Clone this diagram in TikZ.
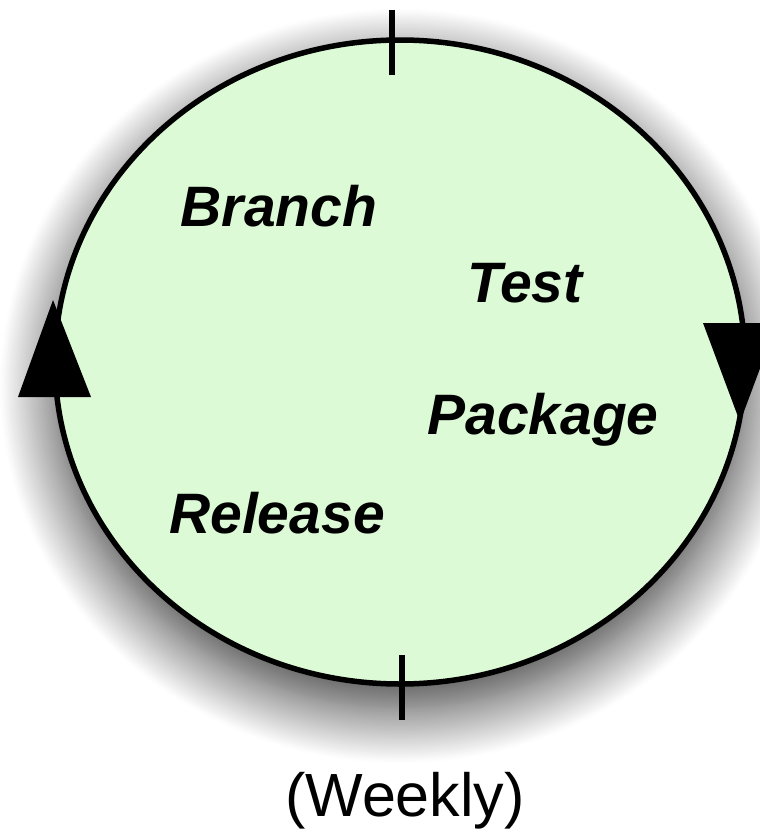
\documentclass[tikz,border=0pt]{standalone}
\usepackage{fontspec}
\setmainfont{Liberation Sans}
\usetikzlibrary{shapes.geometric,shadows.blur}
\definecolor{cyclefill}{RGB}{220,250,214}
\tikzset{
  stage/.style={font=\fontsize{57}{60}\selectfont\bfseries\itshape, inner sep=0pt},
  tick/.style={line width=6pt},
  head/.style={fill=black, draw=none},
}
\begin{document}
\begin{tikzpicture}[x=1pt,y=-1pt]
  \useasboundingbox (0,0) rectangle (760,838);
  % the release cycle
  \node (cycle) [ellipse, draw=black, line width=5.5pt, fill=cyclefill,
    minimum width=690pt, minimum height=644pt, inner sep=0pt,
    blur shadow={shadow xshift=0pt, shadow yshift=-24pt,
      shadow blur radius=55pt, shadow blur steps=30, shadow opacity=80}] at (400,362) {};
  % ticks at top and bottom
  \draw[tick] (392,10) -- (392,75);
  \draw[tick] (402,655) -- (402,720);
  % direction heads
  \fill[head] (18,397) -- (91,397) -- (53,300) -- cycle;
  \fill[head] (703,323) -- (777,323) -- (740,422) -- cycle;
  % stages
  \node[stage] (branch) at (279,206) {Branch};
  \node[stage] (test) at (525,283) {Test};
  \node[stage] (package) at (543,420) {Package};
  \node[stage] (release) at (277,513) {Release};
  \node[font=\fontsize{61}{64}\selectfont, inner sep=0pt] (weekly) at (405,801) {(Weekly)};
\end{tikzpicture}
\end{document}
